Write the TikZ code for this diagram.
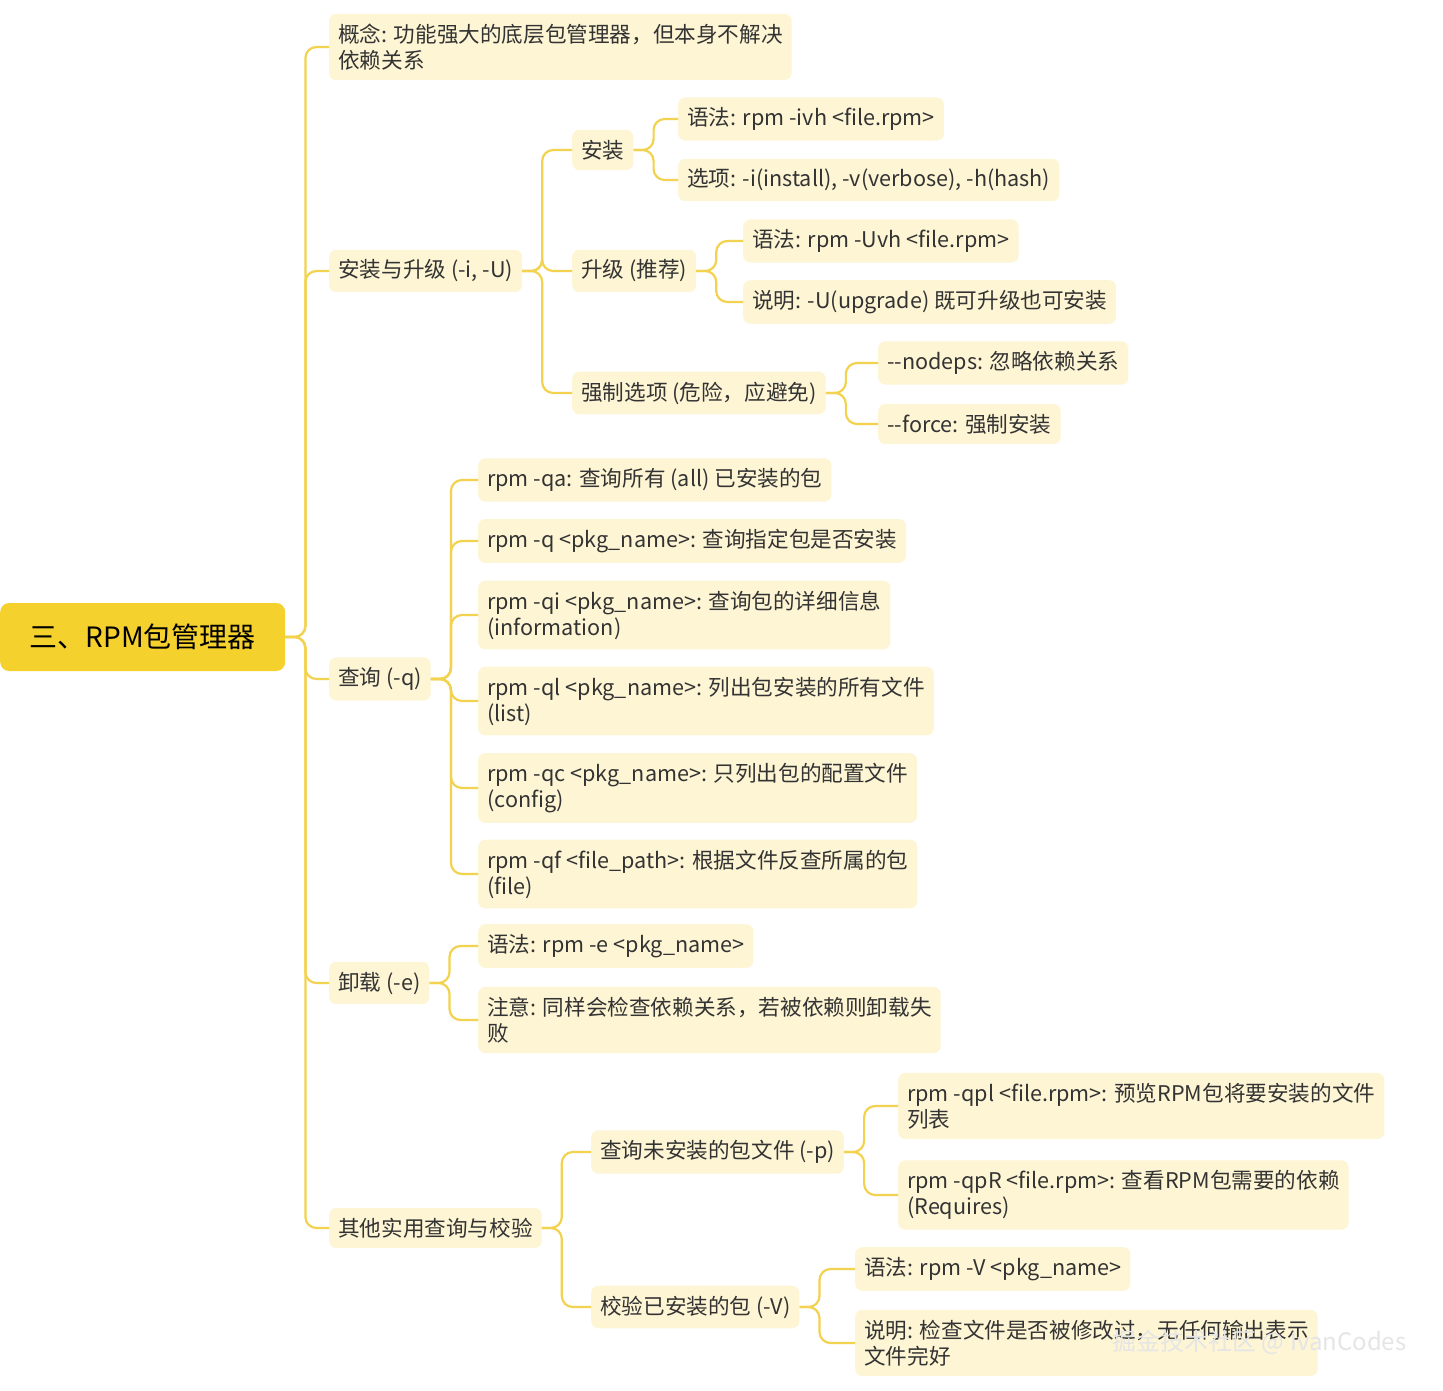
\documentclass[tikz,border=0pt]{standalone}
\usepackage{fontspec}
\setmainfont{Noto Sans CJK SC}
\definecolor{rootc}{HTML}{F5D12E}
\definecolor{leafc}{HTML}{FDF5D4}
\definecolor{linec}{HTML}{F2D24E}
\definecolor{txt}{HTML}{333333}
\begin{document}
\begin{tikzpicture}[x=1pt,y=-1pt,
  leaf/.style={fill=leafc,rounded corners=7pt,anchor=west,align=left,inner xsep=9pt,inner ysep=10pt,font=\fontsize{21.6}{26}\selectfont,text=txt},
  rootn/.style={fill=rootc,rounded corners=9pt,anchor=west,inner xsep=24pt,inner ysep=14pt,font=\fontsize{28}{32}\selectfont,text=black,minimum width=285pt,minimum height=68pt},
  con/.style={draw=linec,line width=2.2pt,rounded corners=11pt}]
\useasboundingbox (0,0) rectangle (1443,1391);
\node[rootn] (r) at (0,637) {三、RPM包管理器};
\node[leaf] (a) at (329,47) {概念: 功能强大的底层包管理器，但本身不解决\\依赖关系};
\node[leaf] (b) at (329,271) {安装与升级 (-i, -U)};
\node[leaf] (c) at (329,679) {查询 (-q)};
\node[leaf] (d) at (329,983) {卸载 (-e)};
\node[leaf] (e) at (329,1228) {其他实用查询与校验};
\node[leaf] (b1) at (572,150) {安装};
\node[leaf] (b2) at (572,271) {升级 (推荐)};
\node[leaf] (b3) at (572,393) {强制选项 (危险，应避免)};
\node[leaf] (b11) at (678,119) {语法: rpm -ivh <file.rpm>};
\node[leaf] (b12) at (678,180) {选项: -i(install), -v(verbose), -h(hash)};
\node[leaf] (b21) at (743,241) {语法: rpm -Uvh <file.rpm>};
\node[leaf] (b22) at (743,302) {说明: -U(upgrade) 既可升级也可安装};
\node[leaf] (b31) at (878,363) {-{}-nodeps: 忽略依赖关系};
\node[leaf] (b32) at (878,424) {-{}-force: 强制安装};
\node[leaf] (c1) at (478,480) {rpm -qa: 查询所有 (all) 已安装的包};
\node[leaf] (c2) at (478,541) {rpm -q <pkg\_name>: 查询指定包是否安装};
\node[leaf] (c3) at (478,615) {rpm -qi <pkg\_name>: 查询包的详细信息\\(information)};
\node[leaf] (c4) at (478,701) {rpm -ql <pkg\_name>: 列出包安装的所有文件\\(list)};
\node[leaf] (c5) at (478,788) {rpm -qc <pkg\_name>: 只列出包的配置文件\\(config)};
\node[leaf] (c6) at (478,874) {rpm -qf <file\_path>: 根据文件反查所属的包\\(file)};
\node[leaf] (d1) at (478,946) {语法: rpm -e <pkg\_name>};
\node[leaf] (d2) at (478,1020) {注意: 同样会检查依赖关系，若被依赖则卸载失\\败};
\node[leaf] (e1) at (591,1152) {查询未安装的包文件 (-p)};
\node[leaf] (e2) at (591,1307) {校验已安装的包 (-V)};
\node[leaf] (e11) at (898,1106) {rpm -qpl <file.rpm>: 预览RPM包将要安装的文件\\列表};
\node[leaf] (e12) at (898,1195) {rpm -qpR <file.rpm>: 查看RPM包需要的依赖\\(Requires)};
\node[leaf] (e21) at (855,1269) {语法: rpm -V <pkg\_name>};
\node[leaf] (e22) at (855,1343) {说明: 检查文件是否被修改过，无任何输出表示\\文件完好};
\foreach \p/\cs in {r/{a,b,c,d,e},b/{b1,b2,b3},b1/{b11,b12},b2/{b21,b22},b3/{b31,b32},c/{c1,c2,c3,c4,c5,c6},d/{d1,d2},e/{e1,e2},e1/{e11,e12},e2/{e21,e22}}{
  \foreach \ch in \cs { \draw[con] (\p.east) -- ++(20,0) |- (\ch.west); }
}
\node[anchor=east,text=white!80!gray,font=\fontsize{24}{28}\selectfont] (wm) at (1410,1342) {掘金技术社区 @ IvanCodes};
\end{tikzpicture}
\end{document}
